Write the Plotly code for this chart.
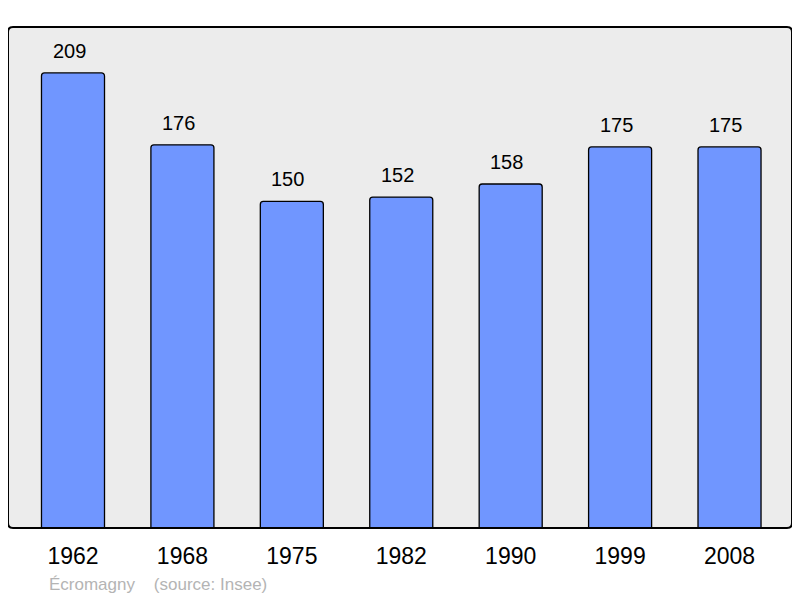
import plotly.graph_objects as go

years = ["1962", "1968", "1975", "1982", "1990", "1999", "2008"]
population = [209, 176, 150, 152, 158, 175, 175]
town = "Écromagny"
source = "(source: Insee)"

xs = list(range(len(years)))
FONT = "Liberation Sans, Arial, sans-serif"

fig = go.Figure()
fig.add_trace(go.Bar(
    x=xs, y=population, width=0.576,
    marker=dict(color="#7096ff", line=dict(color="#000000", width=1.3), cornerradius=3),
    hoverinfo="skip",
))

for i, v in zip(xs, population):
    fig.add_annotation(x=i, y=v, xref="x", yref="y", text=str(v), showarrow=False,
                       yanchor="middle", yshift=22, xshift=-4,
                       font=dict(family=FONT, size=20, color="#000"))

# rounded frame path in paper coordinates
rx, ry = 5 / 784, 5 / 501
frame = (f"M {rx},0 L {1-rx},0 Q 1,0 1,{ry} L 1,{1-ry} Q 1,1 {1-rx},1 "
         f"L {rx},1 Q 0,1 0,{1-ry} L 0,{ry} Q 0,0 {rx},0 Z")

fig.update_layout(
    width=792, height=590,
    margin=dict(l=0, r=8, t=19, b=70),
    paper_bgcolor="#ffffff",
    plot_bgcolor="#ececec",
    showlegend=False,
    xaxis=dict(range=[-0.594, 6.571], tickmode="array", tickvals=xs, ticktext=years,
               showgrid=False, zeroline=False, ticks="", ticklabelstandoff=12,
               tickfont=dict(family=FONT, size=23, color="#000"),
               fixedrange=True),
    yaxis=dict(range=[0, 230.1], showgrid=False, zeroline=False, showticklabels=False,
               ticks="", fixedrange=True),
    font=dict(family=FONT),
    shapes=[dict(type="path", xref="paper", yref="paper", path=frame,
                 line=dict(color="#000000", width=2), layer="above")],
)

fig.add_annotation(xref="paper", yref="paper", x=39 / 784, y=-56 / 501, xanchor="left", yanchor="middle",
                   text=town + "&nbsp;&nbsp;&nbsp;&nbsp;" + source, showarrow=False,
                   font=dict(family=FONT, size=17, color="#b4b4b4"))

fig.write_html("out.html")
